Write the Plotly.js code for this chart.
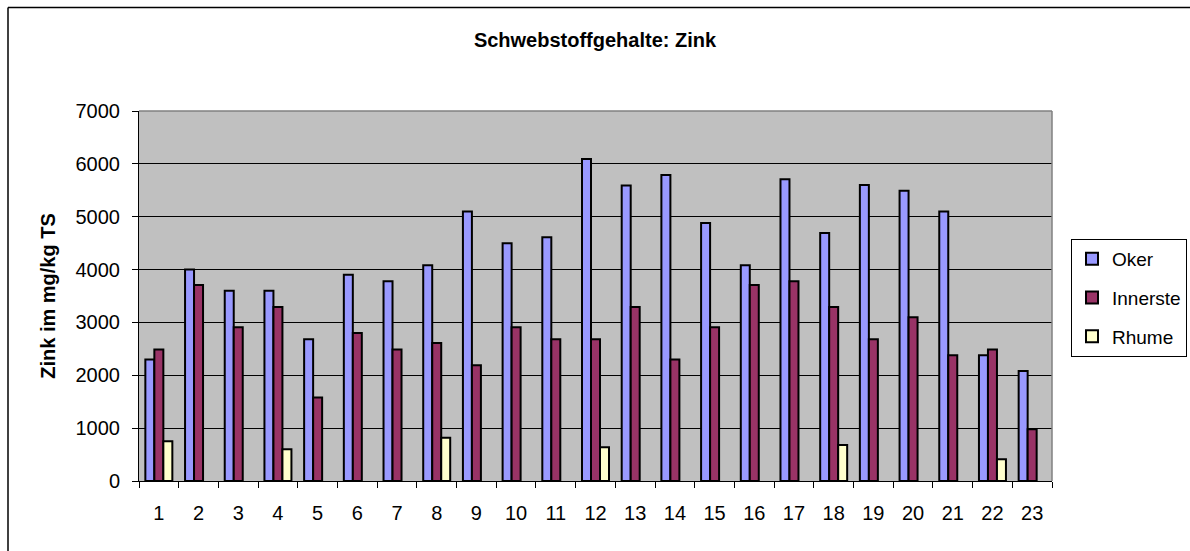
<!DOCTYPE html>
<html>
<head>
<meta charset="utf-8">
<script src="https://cdn.plot.ly/plotly-3.0.1.min.js"></script>
<style>
html,body{margin:0;padding:0;background:#fff;overflow:hidden;}
#chart{width:1190px;height:551px;}
</style>
</head>
<body>
<div id="chart"></div>
<script>
const categories = ["1","2","3","4","5","6","7","8","9","10","11","12","13","14","15","16","17","18","19","20","21","22","23"];
const oker = [2300,4000,3600,3600,2680,3900,3780,4080,5100,4500,4610,6090,5590,5790,4880,4080,5710,4690,5600,5490,5100,2380,2080];
const innerste = [2490,3710,2910,3290,1580,2800,2490,2610,2190,2910,2680,2680,3290,2300,2910,3710,3780,3290,2680,3100,2380,2490,980];
const rhume = [750,null,null,600,null,null,null,820,null,null,null,640,null,null,null,null,null,680,null,null,null,410,null];
const yTicks = [0,1000,2000,3000,4000,5000,6000,7000];

const FONT = "Liberation Sans, Arial, sans-serif";
const line = {color:"#000000", width:2};

const traces = [
  {type:"bar", name:"Oker", x:categories, y:oker, marker:{color:"#9999FF", line:line}, legendgroup:"a"},
  {type:"bar", name:"Innerste", x:categories, y:innerste, marker:{color:"#993366", line:line}, legendgroup:"b"},
  {type:"bar", name:"Rhume", x:categories, y:rhume, marker:{color:"#FFFFCC", line:line}, legendgroup:"c"}
];

const layout = {
  width:1190, height:551,
  margin:{l:139, r:138, t:111, b:70, autoexpand:false},
  paper_bgcolor:"#ffffff",
  plot_bgcolor:"#C0C0C0",
  font:{family:FONT, size:18, color:"#000"},
  barmode:"group",
  bargap:0.32,
  bargroupgap:0,
  title:{text:"Schwebstoffgehalte: Zink", font:{family:FONT, size:20, color:"#000", weight:"bold"}, x:0.5, xref:"container", y:1-40/551, yref:"container", yanchor:"middle"},
  xaxis:{
    type:"category",
    tickson:"boundaries",
    ticks:"outside", ticklen:6, tickcolor:"#000", tickwidth:1,
    showline:true, linecolor:"#000", linewidth:1,
    showgrid:false,
    tickfont:{family:FONT, size:20, color:"#000"},
    ticklabelstandoff:14,
    automargin:false,
    fixedrange:true
  },
  yaxis:{
    range:[0,7000],
    tickvals:yTicks,
    ticks:"outside", ticklen:6, tickcolor:"#000", tickwidth:1,
    showline:true, linecolor:"#000", linewidth:1,
    showgrid:true, gridcolor:"#000000", gridwidth:1,
    zeroline:false,
    tickfont:{family:FONT, size:20, color:"#000"},
    ticklabelstandoff:8,
    title:{text:"Zink im mg/kg TS", font:{family:FONT, size:20, color:"#000", weight:"bold"}, standoff:14},
    automargin:false,
    fixedrange:true
  },
  legend:{
    x:(1071-139)/913, xanchor:"left",
    y:(481-239)/370, yanchor:"top",
    bgcolor:"#ffffff",
    bordercolor:"#000", borderwidth:1,
    font:{family:FONT, size:19, color:"#000"},
    traceorder:"grouped",
    tracegroupgap:11,
    itemwidth:30
  },
  showlegend:true,
  shapes:[
    {type:"line", xref:"paper", yref:"paper", x0:0, x1:1, y0:1, y1:1, line:{color:"#808080", width:1.5}, layer:"above"},
    {type:"line", xref:"paper", yref:"paper", x0:1, x1:1, y0:0, y1:1, line:{color:"#808080", width:1.5}, layer:"above"},
    {type:"line", xref:"paper", yref:"paper", x0:(8-139)/913, x1:3, y0:(481-7.5)/370, y1:(481-7.5)/370, line:{color:"#000", width:1.5}, layer:"above"},
    {type:"line", xref:"paper", yref:"paper", x0:(8-139)/913, x1:(8-139)/913, y0:-3, y1:(481-7.5)/370, line:{color:"#000", width:1.5}, layer:"above"}
  ]
};

Plotly.newPlot("chart", traces, layout, {displayModeBar:false, staticPlot:true});
</script>
</body>
</html>
